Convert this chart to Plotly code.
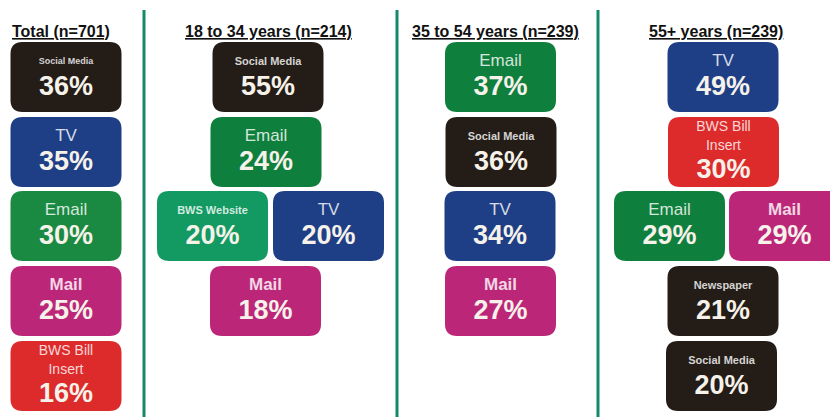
import plotly.graph_objects as go


# =====================================
# DATA
# =====================================

group_titles = [
    "Total (n=701)",
    "18 to 34 years (n=214)",
    "35 to 54 years (n=239)",
    "55+ years (n=239)",
]

total_channels = ["Social Media", "TV", "Email", "Mail", "BWS Bill<br>Insert"]
total_pct = [36, 35, 30, 25, 16]

young_channels = ["Social Media", "Email", "BWS Website", "TV", "Mail"]
young_pct = [55, 24, 20, 20, 18]

middle_channels = ["Email", "Social Media", "TV", "Mail"]
middle_pct = [37, 36, 34, 27]

senior_channels = ["TV", "BWS Bill<br>Insert", "Email", "Mail", "Newspaper", "Social Media"]
senior_pct = [49, 30, 29, 29, 21, 20]


# =====================================
# LAYOUT (positions / styles)
# =====================================

W, H = 830, 417
BOX_W, BOX_H = 111, 70
ROW_TOP = [42, 117, 191, 266, 341]
RADIUS = 12

title_x = [61, 268, 495, 716]
divider_x = [144, 397, 598]

box_x = [
    [66, 66, 66, 66, 66],
    [268, 266, 212.5, 328.5, 265.5],
    [500.5, 501, 500, 500.5],
    [723, 723.5, 669.5, 784.5, 723, 721.5],
]
box_row = [
    [0, 1, 2, 3, 4],
    [0, 1, 2, 2, 3],
    [0, 1, 2, 3],
    [0, 1, 2, 2, 3, 4],
]

colors = {
    "Social Media": "#241c16",
    "TV": "#1e3f86",
    "Email": "#0f7f3d",
    "BWS Website": "#129a62",
    "Mail": "#bc2679",
    "BWS Bill<br>Insert": "#dd2b2c",
    "Newspaper": "#241c16",
}

# label size, weight
label_style = {
    "Social Media": (11, "bold"),
    "Newspaper": (11, "bold"),
    "BWS Website": (11, "bold"),
    "TV": (17, "normal"),
    "Email": (17, "normal"),
    "Mail": (17, "bold"),
    "BWS Bill<br>Insert": (14, "normal"),
}

groups = [
    (total_channels, total_pct),
    (young_channels, young_pct),
    (middle_channels, middle_pct),
    (senior_channels, senior_pct),
]


def rounded_box(x0, y0, x1, y1, r):
    return (
        f"M {x0 + r},{y0} L {x1 - r},{y0} Q {x1},{y0} {x1},{y0 + r} "
        f"L {x1},{y1 - r} Q {x1},{y1} {x1 - r},{y1} "
        f"L {x0 + r},{y1} Q {x0},{y1} {x0},{y1 - r} "
        f"L {x0},{y0 + r} Q {x0},{y0} {x0 + r},{y0} Z"
    )


fig = go.Figure()
shapes = []

for xs in divider_x:
    shapes.append(dict(
        type="line", xref="x", yref="y",
        x0=xs, x1=xs, y0=10, y1=H,
        line=dict(color="#15896a", width=3),
    ))

for g, (channels, pcts) in enumerate(groups):
    pct_x, pct_y, pct_t = [], [], []

    for i, (ch, p) in enumerate(zip(channels, pcts)):
        cx = box_x[g][i]
        top = ROW_TOP[box_row[g][i]]
        fill = colors[ch]
        if g == 0 and ch == "Email":
            fill = "#1a8a42"
        shapes.append(dict(
            type="path", xref="x", yref="y",
            path=rounded_box(cx - BOX_W / 2, top, cx + BOX_W / 2, top + BOX_H, RADIUS),
            fillcolor=fill, line=dict(width=0), layer="below",
        ))

        two_line = "<br>" in ch
        size, weight = label_style[ch]
        if g == 0 and ch == "Social Media":
            size = 9
        fig.add_trace(go.Scatter(
            x=[cx], y=[top + 20], text=[ch], mode="text",
            textfont=dict(family="Liberation Sans, Arial", size=size,
                          color="rgba(255,255,255,0.82)", weight=weight),
            hoverinfo="skip", showlegend=False,
        ))
        pct_x.append(cx)
        pct_y.append(top + (54 if two_line else 46))
        pct_t.append(f"{p}%")

    fig.add_trace(go.Scatter(
        x=pct_x, y=pct_y, text=pct_t, mode="text",
        textfont=dict(family="Liberation Sans, Arial", size=27,
                      color="#f6f2ea", weight="bold"),
        hoverinfo="skip", showlegend=False,
    ))

    fig.add_annotation(
        x=title_x[g], y=31, xref="x", yref="y",
        text=f"<u><b>{group_titles[g]}</b></u>",
        showarrow=False,
        font=dict(family="Liberation Sans, Arial", size=16, color="#111111"),
    )

fig.update_layout(
    width=W, height=H,
    margin=dict(l=0, r=0, t=0, b=0),
    paper_bgcolor="white", plot_bgcolor="white",
    shapes=shapes,
    xaxis=dict(range=[0, W], visible=False, fixedrange=True),
    yaxis=dict(range=[H, 0], visible=False, fixedrange=True),
)

fig.write_html(
    "out.html",
    config={"displayModeBar": False},
    post_script="document.body.style.margin='0';",
)
